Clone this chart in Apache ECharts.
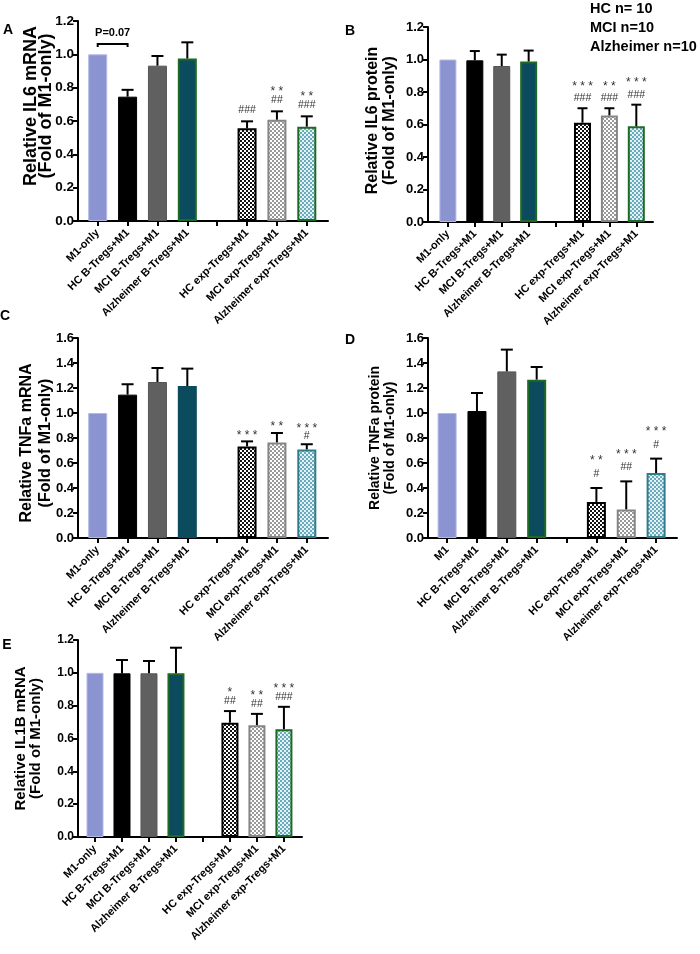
<!DOCTYPE html>
<html><head><meta charset="utf-8">
<script src="https://cdn.jsdelivr.net/npm/echarts@6/dist/echarts.min.js"></script>
<style>html,body{margin:0;padding:0;background:#fff}#c{width:700px;height:954px}</style>
</head><body><div id="c"></div>
<script>
// ---------- DATA ----------
const categories = ['M1-only','HC B-Tregs+M1','MCI B-Tregs+M1','Alzheimer B-Tregs+M1','','HC exp-Tregs+M1','MCI exp-Tregs+M1','Alzheimer exp-Tregs+M1'];
const categoriesD = ['M1','HC B-Tregs+M1','MCI B-Tregs+M1','Alzheimer B-Tregs+M1','','HC exp-Tregs+M1','MCI exp-Tregs+M1','Alzheimer exp-Tregs+M1'];

// A: IL6 mRNA
const il6mRNA_mean  = [1.0, 0.746, 0.932, 0.975, null, 0.556, 0.608, 0.566];
const il6mRNA_err   = [null, 0.787, 0.99, 1.072, null, 0.598, 0.658, 0.628];
const il6mRNA_stars = ['', '', '', '', '', '', '* *', '* *'];
const il6mRNA_hash  = ['', '', '', '', '', '###', '##', '###'];
const il6mRNA_bracket = [0, 1, 1.062];
const il6mRNA_bracketText = 'P=0.07';

// B: IL6 protein
const il6prot_mean  = [1.0, 0.995, 0.96, 0.988, null, 0.611, 0.656, 0.589];
const il6prot_err   = [null, 1.052, 1.03, 1.055, null, 0.70, 0.70, 0.722];
const il6prot_stars = ['', '', '', '', '', '* * *', '* *', '* * *'];
const il6prot_hash  = ['', '', '', '', '', '###', '###', '###'];

// C: TNFa mRNA
const tnfmRNA_mean  = [1.0, 1.147, 1.248, 1.216, null, 0.733, 0.765, 0.709];
const tnfmRNA_err   = [null, 1.23, 1.36, 1.355, null, 0.773, 0.84, 0.75];
const tnfmRNA_stars = ['', '', '', '', '', '* * *', '* *', '* * *'];
const tnfmRNA_hash  = ['', '', '', '', '', '', '', '#'];

// D: TNFa protein
const tnfprot_mean  = [1.0, 1.016, 1.333, 1.267, null, 0.288, 0.229, 0.52];
const tnfprot_err   = [null, 1.16, 1.507, 1.368, null, 0.40, 0.453, 0.635];
const tnfprot_stars = ['', '', '', '', '', '* *', '* * *', '* * *'];
const tnfprot_hash  = ['', '', '', '', '', '#', '##', '#'];

// E: IL1B mRNA
const il1bmRNA_mean  = [1.0, 0.997, 0.997, 0.997, null, 0.696, 0.681, 0.657];
const il1bmRNA_err   = [null, 1.078, 1.072, 1.153, null, 0.767, 0.75, 0.793];
const il1bmRNA_stars = ['', '', '', '', '', '*', '* *', '* * *'];
const il1bmRNA_hash  = ['', '', '', '', '', '##', '##', '###'];

const nText = ['HC n= 10', 'MCI n=10', 'Alzheimer n=10'];

// ---------- STYLES ----------
const FF = 'Liberation Sans, Arial, sans-serif';
function checker(c1, c2, s) {
  const cv = document.createElement('canvas');
  cv.width = cv.height = 2 * s;
  const ctx = cv.getContext('2d');
  ctx.fillStyle = c2; ctx.fillRect(0, 0, 2 * s, 2 * s);
  ctx.fillStyle = c1; ctx.fillRect(0, 0, s, s); ctx.fillRect(s, s, s, s);
  return { image: cv, repeat: 'repeat' };
}
const patHC = checker('#111111', '#ffffff', 2);
const patMCI = checker('#9a9a9a', '#ffffff', 2);
const patAlz = checker('#6aaabd', '#e4f2f5', 2);
const GREEN = '#1d6a22', TEAL = '#2e7c8c';

function styleFor(i, alzBorder) {
  switch (i) {
    case 0: return { color: '#8c93d1', borderColor: '#b3b8e4', borderWidth: 1 };
    case 1: return { color: '#000000', borderColor: '#000000', borderWidth: 1 };
    case 2: return { color: '#606060', borderColor: '#555555', borderWidth: 1 };
    case 3: return { color: '#0c4a5e', borderColor: alzBorder === 'teal' ? '#0c4a5e' : GREEN, borderWidth: 2 };
    case 5: return { color: patHC, borderColor: '#000000', borderWidth: 2 };
    case 6: return { color: patMCI, borderColor: '#858585', borderWidth: 2 };
    case 7: return { color: patAlz, borderColor: alzBorder === 'teal' ? TEAL : GREEN, borderWidth: 2 };
  }
  return {};
}

const panels = [
  { letter: 'A', lx: 8, ly: 30, cats: categories, mean: il6mRNA_mean, err: il6mRNA_err, stars: il6mRNA_stars, hash: il6mRNA_hash,
    grid: { left: 78, top: 21, width: 250, height: 200 }, xmin: -0.66, xmax: 7.71, ymax: 1.2,
    name: 'Relative IL6 mRNA\n(Fold of M1-only)', nameSize: 18, nameLH: 15, nameGap: 24, namePad: [0, 0, 0, 30], tickSize: 13.5,
    barW: 19, cap: 6, alz: 'green', gH: 11, gS: 23, gS1: 11 },
  { letter: 'B', lx: 350, ly: 31, cats: categories, mean: il6prot_mean, err: il6prot_err, stars: il6prot_stars, hash: il6prot_hash,
    grid: { left: 428, top: 27, width: 225, height: 195 }, xmin: -0.74, xmax: 7.62, ymax: 1.2,
    name: 'Relative IL6 protein\n(Fold of M1-only)', nameSize: 16, nameLH: 17, nameGap: 30, namePad: [0, 0, 0, 8], tickSize: 13,
    barW: 17, cap: 5, alz: 'green', gH: 10, gS: 25, gS1: 11 },
  { letter: 'C', lx: 5, ly: 316, cats: categories, mean: tnfmRNA_mean, err: tnfmRNA_err, stars: tnfmRNA_stars, hash: tnfmRNA_hash,
    grid: { left: 78, top: 338, width: 250, height: 200 }, xmin: -0.66, xmax: 7.71, ymax: 1.6,
    name: 'Relative TNFa mRNA\n(Fold of M1-only)', nameSize: 16, nameLH: 19, nameGap: 23, namePad: [0, 10, 0, 0], tickSize: 13,
    barW: 19, cap: 6, alz: 'teal', gH: 8, gS: 19, gS1: 9 },
  { letter: 'D', lx: 350, ly: 340, cats: categoriesD, mean: tnfprot_mean, err: tnfprot_err, stars: tnfprot_stars, hash: tnfprot_hash,
    grid: { left: 428, top: 338, width: 249, height: 200 }, xmin: -0.64, xmax: 7.70, ymax: 1.6,
    name: 'Relative TNFa protein\n(Fold of M1-only)', nameSize: 14, nameLH: 15, nameGap: 30, namePad: [0, 0, 0, 0], tickSize: 13,
    barW: 19, cap: 6, alz: 'teal', gH: 14, gS: 30, gS1: 14 },
  { letter: 'E', lx: 7, ly: 645, cats: categories, mean: il1bmRNA_mean, err: il1bmRNA_err, stars: il1bmRNA_stars, hash: il1bmRNA_hash,
    grid: { left: 78, top: 640, width: 224, height: 197 }, xmin: -0.63, xmax: 7.67, ymax: 1.2,
    name: 'Relative IL1B mRNA\n(Fold of M1-only)', nameSize: 15, nameLH: 15, nameGap: 35, namePad: [0, 0, 0, 0], tickSize: 12,
    barW: 17, cap: 6, alz: 'green', gH: 10, gS: 21, gS1: 10 }
];
// Alzheimer B bar border: teal in C only
const alzBBorder = ['green', 'green', 'teal', 'green', 'green'];

const grids = [], xAxes = [], yAxes = [], series = [];
const idx8 = [0, 1, 2, 3, 4, 5, 6, 7];
panels.forEach((p, k) => {
  grids.push(Object.assign({ containLabel: false }, p.grid));
  xAxes.push({
    type: 'value', gridIndex: k, min: p.xmin, max: p.xmax,
    axisLine: { show: true, onZero: false, lineStyle: { color: '#000', width: 2 } },
    axisTick: { show: true, customValues: idx8, length: 5, lineStyle: { color: '#000', width: 2 } },
    axisLabel: { show: true, customValues: idx8, formatter: v => p.cats[Math.round(v)] || '', rotate: 45,
      fontSize: 11, fontWeight: 'bold', fontFamily: FF, color: '#000', margin: 10 },
    splitLine: { show: false }
  });
  yAxes.push({
    type: 'value', gridIndex: k, min: 0, max: p.ymax, interval: 0.2,
    axisLine: { show: true, onZero: false, lineStyle: { color: '#000', width: 2 } },
    axisTick: { show: true, length: 5, lineStyle: { color: '#000', width: 2 } },
    axisLabel: { fontSize: p.tickSize, fontWeight: 'bold', fontFamily: FF, color: '#000', margin: 4, formatter: v => v.toFixed(1) },
    splitLine: { show: false },
    name: p.name, nameLocation: 'middle', nameGap: p.nameGap, nameMoveOverlap: false,
    nameTextStyle: { fontSize: p.nameSize, fontWeight: 'bold', fontFamily: FF, color: '#000', lineHeight: p.nameLH, padding: p.namePad }
  });
  const barData = [];
  p.mean.forEach((v, i) => {
    if (v == null) return;
    const st = styleFor(i, i === 3 ? alzBBorder[k] : p.alz);
    barData.push({ value: [i, v], itemStyle: st });
  });
  series.push({ type: 'bar', xAxisIndex: k, yAxisIndex: k, barWidth: p.barW, data: barData, z: 2, silent: true });

  const errIdx = [];
  p.err.forEach((e, i) => { if (e != null) errIdx.push(i); });
  series.push({
    type: 'custom', xAxisIndex: k, yAxisIndex: k, z: 5, silent: true,
    data: errIdx.map(i => [i, p.err[i], p.mean[i]]),
    renderItem: (params, api) => {
      const i = errIdx[params.dataIndex];
      const base = api.coord([api.value(0), api.value(2)]);
      const top = api.coord([api.value(0), api.value(1)]);
      const ch = [
        { type: 'line', shape: { x1: top[0], y1: base[1], x2: top[0], y2: top[1] }, style: { stroke: '#000', lineWidth: 2 } },
        { type: 'line', shape: { x1: top[0] - p.cap, y1: top[1], x2: top[0] + p.cap, y2: top[1] }, style: { stroke: '#000', lineWidth: 2 } }
      ];
      const h = p.hash[i], s = p.stars[i];
      if (h) ch.push({ type: 'text', style: { text: h, x: top[0], y: top[1] - p.gH, align: 'center', verticalAlign: 'middle', fontSize: 10.5, fontFamily: FF, fill: '#333' } });
      if (s) ch.push({ type: 'text', style: { text: s, x: top[0], y: top[1] - (h ? p.gS : p.gS1) + 3, align: 'center', verticalAlign: 'middle', fontSize: 12, fontFamily: FF, fill: '#333' } });
      return { type: 'group', children: ch };
    }
  });
});

// P=0.07 bracket in panel A
series.push({
  type: 'custom', xAxisIndex: 0, yAxisIndex: 0, z: 5, silent: true,
  data: [il6mRNA_bracket],
  renderItem: (params, api) => {
    const a = api.coord([api.value(0), api.value(2)]);
    const b = api.coord([api.value(1), api.value(2)]);
    return { type: 'group', children: [
      { type: 'polyline', shape: { points: [[a[0], a[1] + 3], [a[0], a[1]], [b[0], b[1]], [b[0], b[1] + 3]] }, style: { stroke: '#000', lineWidth: 2, fill: null } },
      { type: 'text', style: { text: il6mRNA_bracketText, x: (a[0] + b[0]) / 2, y: a[1] - 11, align: 'center', verticalAlign: 'middle', fontSize: 11, fontWeight: 'bold', fontFamily: FF, fill: '#000' } }
    ] };
  }
});

const graphics = panels.map(p => ({ type: 'text', x: p.lx, y: p.ly, style: { text: p.letter, fontSize: 14, fontWeight: 'bold', fontFamily: FF, fill: '#000', align: 'center', verticalAlign: 'middle' } }));
graphics.push({ type: 'text', x: 590, y: -1, style: { text: nText.join('\n'), fontSize: 14.5, fontWeight: 'bold', fontFamily: FF, fill: '#000', lineHeight: 19, align: 'left', verticalAlign: 'top' } });

const chart = echarts.init(document.getElementById('c'), null, { renderer: 'canvas' });
chart.setOption({
  animation: false, backgroundColor: '#fff',
  grid: grids, xAxis: xAxes, yAxis: yAxes, series: series, graphic: graphics
});
</script></body></html>
